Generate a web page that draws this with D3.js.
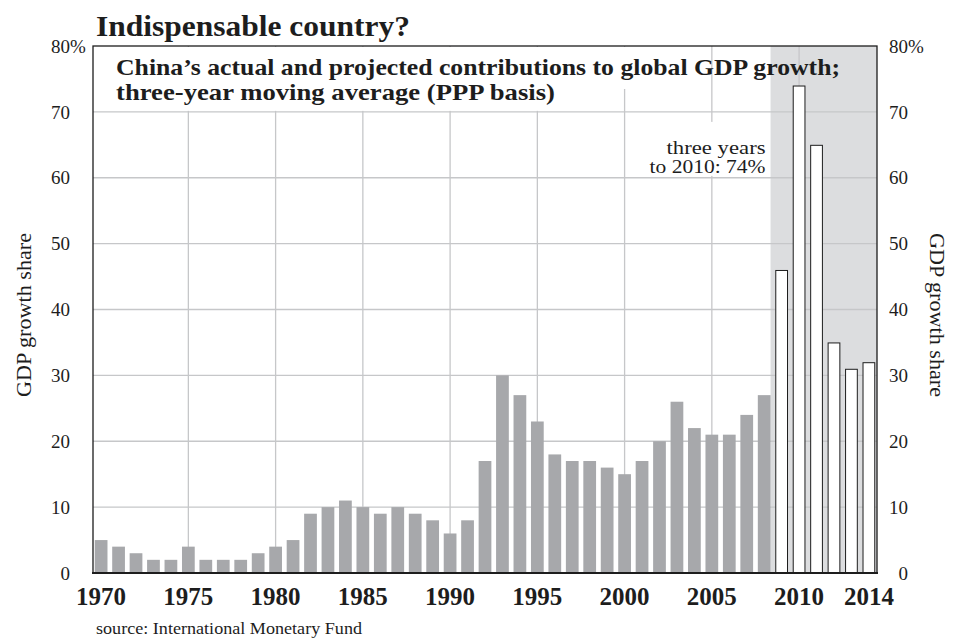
<!DOCTYPE html>
<html>
<head>
<meta charset="utf-8">
<script src="https://cdn.jsdelivr.net/npm/d3@7"></script>
<style>
  html, body { margin: 0; padding: 0; background: #fff; }
  svg { display: block; }
  text { font-family: "Liberation Serif", "DejaVu Serif", serif; fill: #1d1d1d; }
</style>
</head>
<body>
<svg id="chart" width="956" height="639"></svg>
<script>
// Three-year moving average of China's share of global GDP growth, % (PPP basis)
const years = [
  1970, 1971, 1972, 1973, 1974, 1975, 1976, 1977, 1978, 1979,
  1980, 1981, 1982, 1983, 1984, 1985, 1986, 1987, 1988, 1989,
  1990, 1991, 1992, 1993, 1994, 1995, 1996, 1997, 1998, 1999,
  2000, 2001, 2002, 2003, 2004, 2005, 2006, 2007, 2008, 2009,
  2010, 2011, 2012, 2013, 2014
];
const share = [
  5, 4, 3, 2, 2, 4, 2, 2, 2, 3,
  4, 5, 9, 10, 11, 10, 9, 10, 9, 8,
  6, 8, 17, 30, 27, 23, 18, 17, 17, 16,
  15, 17, 20, 26, 22, 21, 21, 24, 27, 46,
  74, 65, 35, 31, 32
];
// Years from here on are IMF projections
const firstProjectedYear = 2009;

const yTicks = [0, 10, 20, 30, 40, 50, 60, 70, 80];
const gridYears = [1975, 1980, 1985, 1990, 1995, 2000, 2005, 2010];
const xLabelYears = [1970, 1975, 1980, 1985, 1990, 1995, 2000, 2005, 2010, 2014];

const titleText = "Indispensable country?";
const subtitleLines = [
  "China\u2019s actual and projected contributions to global GDP growth;",
  "three-year moving average (PPP basis)"
];
const noteLead = "three years";
const axisTitle = "GDP growth share";
const sourceText = "source: International Monetary Fund";

const data = years.map((y, i) => ({ year: y, value: share[i], projected: y >= firstProjectedYear }));

const plot = { left: 93, right: 877, top: 46, bottom: 573 };
const svg = d3.select("#chart");

const x = d3.scaleBand()
  .domain(years)
  .range([plot.left, plot.right])
  .paddingInner(0.27)
  .paddingOuter(0.1);
const y = d3.scaleLinear().domain([0, 80]).range([plot.bottom, plot.top]);
const cx = yr => x(yr) + x.bandwidth() / 2;

// Shaded forecast period
const shadeX = x(firstProjectedYear - 1) + x.bandwidth();
svg.append("rect")
  .attr("x", shadeX)
  .attr("y", plot.top)
  .attr("width", plot.right - shadeX)
  .attr("height", plot.bottom - plot.top)
  .attr("fill", "#dcdddf");

// Gridlines
const grid = svg.append("g").attr("stroke", "#c6c7c9").attr("stroke-width", 1.3);
grid.selectAll("line.h")
  .data(yTicks.filter(t => t > 0 && t < 80))
  .join("line")
  .attr("x1", plot.left).attr("x2", plot.right)
  .attr("y1", d => y(d)).attr("y2", d => y(d));
grid.selectAll("line.v")
  .data(gridYears)
  .join("line")
  .attr("x1", d => cx(d)).attr("x2", d => cx(d))
  .attr("y1", plot.top).attr("y2", plot.bottom);

// Bars: grey for actual, outlined white for projections
svg.append("g").selectAll("rect")
  .data(data)
  .join("rect")
  .attr("x", d => x(d.year) + (d.projected ? 0.5 : 0))
  .attr("width", d => x.bandwidth() - (d.projected ? 1 : 0))
  .attr("y", d => y(d.value) + (d.projected ? 0.5 : 0))
  .attr("height", d => y(0) - y(d.value) - (d.projected ? 0.5 : 0))
  .attr("fill", d => d.projected ? "#ffffff" : "#a7a8ab")
  .attr("stroke", d => d.projected ? "#1d1d1d" : "none")
  .attr("stroke-width", 1);

// Knock-out panels behind the chart subtitle and the note
svg.append("rect").attr("x", plot.left + 1).attr("y", plot.top + 1)
  .attr("width", 590).attr("height", 42).attr("fill", "#fff");
svg.append("rect").attr("x", plot.left + 1).attr("y", plot.top + 40)
  .attr("width", 505).attr("height", y(70) - plot.top - 41).attr("fill", "#fff");

const peak = data.find(d => d.year === 2010);
const noteX = shadeX - 5;
svg.append("rect").attr("x", noteX - 124).attr("y", y(70) + 10)
  .attr("width", 126).attr("height", 54).attr("fill", "#fff");
svg.append("text")
  .attr("x", noteX).attr("y", 154)
  .attr("text-anchor", "end")
  .attr("font-size", 18.5)
  .selectAll("tspan")
  .data([
    { t: noteLead, w: 99 },
    { t: `to ${peak.year}: ${peak.value}%`, w: 116 }
  ])
  .join("tspan")
  .attr("x", noteX)
  .attr("dy", (d, i) => i === 0 ? 0 : 19)
  .attr("textLength", d => d.w)
  .attr("lengthAdjust", "spacingAndGlyphs")
  .text(d => d.t);

// Frame
svg.append("rect")
  .attr("x", plot.left).attr("y", plot.top)
  .attr("width", plot.right - plot.left).attr("height", plot.bottom - plot.top)
  .attr("fill", "none").attr("stroke", "#1d1d1d").attr("stroke-width", 1.3);
svg.append("line")
  .attr("x1", plot.left - 1).attr("x2", plot.right + 1)
  .attr("y1", plot.bottom).attr("y2", plot.bottom)
  .attr("stroke", "#1d1d1d").attr("stroke-width", 2);

// Value axes, left and right
const yLabels = svg.append("g").attr("font-size", 19);
function tickLabel(anchorX, t) {
  yLabels.append("text")
    .attr("x", anchorX).attr("y", y(t)).attr("dy", "0.35em")
    .attr("text-anchor", "end").text(t);
  if (t === 80) {
    yLabels.append("text")
      .attr("x", anchorX).attr("y", y(t)).attr("dy", "0.35em")
      .attr("text-anchor", "start").text("%");
  }
}
yTicks.forEach(t => { tickLabel(70, t); tickLabel(908, t); });

// Year axis
svg.append("g")
  .attr("font-size", 25).attr("font-weight", "bold")
  .selectAll("text")
  .data(xLabelYears)
  .join("text")
  .attr("x", d => cx(d)).attr("y", 605)
  .attr("text-anchor", "middle")
  .text(d => d);

// Axis titles
const midY = 315;
svg.append("text")
  .attr("transform", `translate(31,${midY}) rotate(-90)`)
  .attr("text-anchor", "middle").attr("font-size", 20)
  .attr("textLength", 164).attr("lengthAdjust", "spacingAndGlyphs")
  .text(axisTitle);
svg.append("text")
  .attr("transform", `translate(930,${midY}) rotate(90)`)
  .attr("text-anchor", "middle").attr("font-size", 20)
  .attr("textLength", 164).attr("lengthAdjust", "spacingAndGlyphs")
  .text(axisTitle);

// Titles and source
svg.append("text")
  .attr("x", 96).attr("y", 36)
  .attr("font-size", 30).attr("font-weight", "bold")
  .attr("textLength", 314).attr("lengthAdjust", "spacingAndGlyphs")
  .text(titleText);
svg.append("text")
  .attr("font-size", 23).attr("font-weight", "bold")
  .selectAll("tspan")
  .data([{ t: subtitleLines[0], w: 724 }, { t: subtitleLines[1], w: 439 }])
  .join("tspan")
  .attr("x", 116)
  .attr("y", (d, i) => 75 + i * 25)
  .attr("textLength", d => d.w)
  .attr("lengthAdjust", "spacingAndGlyphs")
  .text(d => d.t);
svg.append("text")
  .attr("x", 96).attr("y", 634)
  .attr("font-size", 17)
  .attr("textLength", 266).attr("lengthAdjust", "spacingAndGlyphs")
  .text(sourceText);
</script>
</body>
</html>
